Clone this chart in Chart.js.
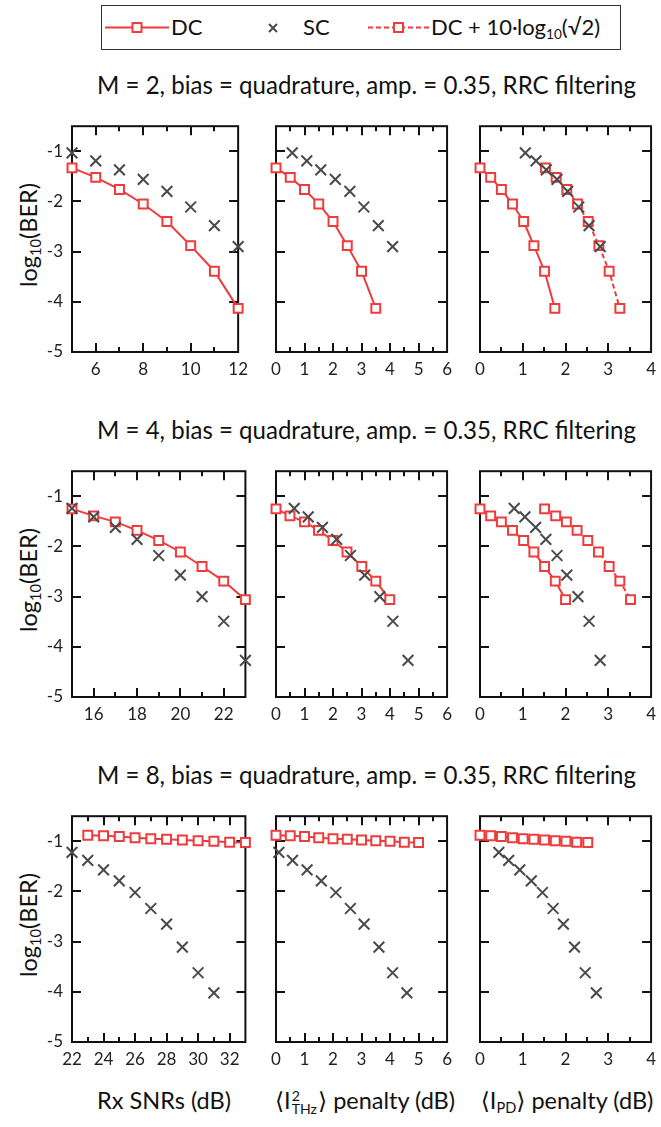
<!DOCTYPE html>
<html><head><meta charset="utf-8">
<script src="https://cdn.jsdelivr.net/npm/chart.js@4.4.1/dist/chart.umd.min.js"></script>
<style>
html,body{margin:0;padding:0;background:#fff;}
body{width:661px;height:1127px;position:relative;overflow:hidden;font-family:Lato,"DejaVu Sans",sans-serif;color:#111;}
canvas.cv{position:absolute;}
.lbl{position:absolute;height:30px;line-height:30px;text-align:center;white-space:nowrap;}
.lbl > span{display:inline-block;white-space:nowrap;}
.yt{transform:rotate(-90deg);}
sub{font-size:0.62em;vertical-align:-0.3em;line-height:0;}
.ss{display:inline-flex;flex-direction:column;font-size:0.6em;line-height:0.95em;vertical-align:0.6em;text-align:left;margin-left:1px;margin-right:1px;}
#legend{position:absolute;left:101px;top:5px;width:518px;height:43px;border:1px solid #333;}
#legend span{position:absolute;top:8px;font-size:22px;line-height:26px;white-space:nowrap;}
</style></head>
<body>
<div id="legend">
<svg width="518" height="43" style="position:absolute;left:0;top:0">
<line x1="3" y1="21.5" x2="67" y2="21.5" stroke="#ee3b3b" stroke-width="2"/>
<rect x="30.5" y="17" width="9" height="9" fill="#fff" stroke="#ee3b3b" stroke-width="2"/>
<path d="M167 18 L175 26 M175 18 L167 26" stroke="#4a4a4a" stroke-width="2"/>
<line x1="266" y1="21.5" x2="327" y2="21.5" stroke="#ee3b3b" stroke-width="2" stroke-dasharray="5,3"/>
<rect x="292" y="17" width="9" height="9" fill="#fff" stroke="#ee3b3b" stroke-width="2"/>
</svg>
<span style="left:69px">DC</span>
<span style="left:201px">SC</span>
<span style="left:329px">DC + 10·log<sub>10</sub>(√2)</span>
</div>

<div class="lbl" data-cx="366.5" data-cy="85" data-w="539"><span>M = 2, bias = quadrature, amp. = 0.35, RRC filtering</span></div>
<div class="lbl" data-cx="366.5" data-cy="430" data-w="539"><span>M = 4, bias = quadrature, amp. = 0.35, RRC filtering</span></div>
<div class="lbl" data-cx="366.5" data-cy="775" data-w="539"><span>M = 8, bias = quadrature, amp. = 0.35, RRC filtering</span></div>

<div class="lbl yt" data-cx="28" data-cy="235" data-fs="23.5"><span>log<sub>10</sub>(BER)</span></div>
<div class="lbl yt" data-cx="28" data-cy="580" data-fs="23.5"><span>log<sub>10</sub>(BER)</span></div>
<div class="lbl yt" data-cx="28" data-cy="925" data-fs="23.5"><span>log<sub>10</sub>(BER)</span></div>

<div class="lbl" data-cx="164" data-cy="1100" data-fs="23.5"><span>Rx SNRs (dB)</span></div>
<div class="lbl" data-cx="365" data-cy="1100" data-fs="23.5"><span>⟨I<span class="ss"><span>2</span><span>THz</span></span>⟩ penalty (dB)</span></div>
<div class="lbl" data-cx="567" data-cy="1100" data-fs="23.5"><span>⟨I<sub>PD</sub>⟩ penalty (dB)</span></div>

<script>
// ---------- DATA ----------
// M = 2
const m2_snr_dc = [5, 6, 7, 8, 9, 10, 11, 12];
const m2_snr_sc = [5, 6, 7, 8, 9, 10, 11, 12];
const m2_ber_dc = [-1.33, -1.52, -1.76, -2.05, -2.40, -2.88, -3.39, -4.13];
const m2_ber_sc = [-1.03, -1.19, -1.37, -1.56, -1.80, -2.11, -2.48, -2.90];
const m2_thz_dc = [0, 0.5, 1.0, 1.5, 2.0, 2.5, 3.0, 3.5];
const m2_thz_sc = [0.57, 1.08, 1.57, 2.08, 2.59, 3.08, 3.59, 4.09];
const m2_pd_dc = [0, 0.25, 0.50, 0.76, 1.02, 1.26, 1.51, 1.75];
const m2_pd_dcp = [1.53, 1.78, 2.03, 2.28, 2.53, 2.78, 3.02, 3.27];
const m2_pd_sc = [1.06, 1.31, 1.55, 1.80, 2.05, 2.31, 2.55, 2.81];
// M = 4
const m4_snr_dc = [15, 16, 17, 18, 19, 20, 21, 22, 23];
const m4_snr_sc = [15, 16, 17, 18, 19, 20, 21, 22, 23];
const m4_ber_dc = [-1.25, -1.39, -1.51, -1.68, -1.88, -2.11, -2.40, -2.69, -3.06];
const m4_ber_sc = [-1.24, -1.41, -1.62, -1.86, -2.18, -2.57, -3.00, -3.49, -4.27];
const m4_thz_dc = [0, 0.49, 1.0, 1.49, 2.0, 2.49, 3.01, 3.5, 3.99];
const m4_thz_sc = [0.64, 1.13, 1.63, 2.13, 2.61, 3.11, 3.64, 4.10, 4.63];
const m4_pd_dc = [0, 0.25, 0.50, 0.76, 1.02, 1.26, 1.51, 1.76, 2.0];
const m4_pd_dcp = [1.51, 1.77, 2.02, 2.27, 2.52, 2.77, 3.02, 3.27, 3.52];
const m4_pd_sc = [0.80, 1.05, 1.30, 1.54, 1.80, 2.03, 2.29, 2.55, 2.81];
// M = 8
const m8_snr_dc = [23, 24, 25, 26, 27, 28, 29, 30, 31, 32, 33];
const m8_snr_sc = [22, 23, 24, 25, 26, 27, 28, 29, 30, 31];
const m8_ber_dc = [-0.88, -0.89, -0.905, -0.93, -0.95, -0.96, -0.975, -0.99, -1.0, -1.02, -1.025];
const m8_ber_sc = [-1.22, -1.38, -1.57, -1.79, -2.02, -2.34, -2.65, -3.11, -3.62, -4.02];
const m8_thz_dc = [0, 0.5, 1.0, 1.5, 2.0, 2.5, 3.0, 3.5, 4.0, 4.5, 5.0];
const m8_thz_sc = [0.10, 0.58, 1.09, 1.59, 2.10, 2.61, 3.09, 3.61, 4.09, 4.59];
const m8_pd_dc = [0, 0.25, 0.50, 0.76, 1.01, 1.26, 1.51, 1.76, 2.01, 2.26, 2.52];
const m8_pd_sc = [0.44, 0.67, 0.93, 1.20, 1.46, 1.71, 1.95, 2.21, 2.46, 2.72];

// axis ranges / ticks
const yRange = [-5, -0.5];
const yTickValues = [-5, -4, -3, -2, -1];
const xRanges = [[5, 12], [15, 23], [22, 33]];
const penaltyRanges = [[0, 6], [0, 4]];

// ---------- TEXT LAYOUT ----------
document.querySelectorAll('.lbl').forEach(el => {
  const inner = el.firstElementChild;
  let fs;
  if (el.dataset.fs) {
    fs = +el.dataset.fs;
  } else {
    el.style.fontSize = '20px';
    const w0 = inner.offsetWidth;
    fs = Math.max(16, Math.min(26, 20 * (+el.dataset.w) / w0));
  }
  el.style.fontSize = fs.toFixed(2) + 'px';
  const W = 600;
  el.style.width = W + 'px';
  el.style.left = (+el.dataset.cx - W / 2) + 'px';
  el.style.top = (+el.dataset.cy - 15) + 'px';
});

// ---------- STYLE / LAYOUT ----------
const RED = '#ee3b3b', GRAY = '#4a4a4a';
const colLeft = [72, 276, 480], plotW = 175;
const rowTop = [115, 460, 805], plotH = 237;
const PADL = 45, PADT = 8, PADR = 8, PADB = 30;

function pts(xs, ys) { return xs.map((x, i) => ({x: x, y: ys[i]})); }
function dcSet(xs, ys, dashed) {
  return {data: pts(xs, ys), showLine: true, borderColor: RED, borderWidth: 2,
    borderDash: dashed ? [5, 3] : [], pointStyle: 'rect', pointRadius: 6.3, pointHoverRadius: 6.3,
    pointBorderWidth: 2, pointBackgroundColor: '#fff', pointBorderColor: RED, clip: false, order: 2};
}
function scSet(xs, ys) {
  return {data: pts(xs, ys), showLine: false, borderColor: GRAY, pointStyle: 'crossRot',
    pointRadius: 7.6, pointHoverRadius: 7.6, pointBorderWidth: 2, pointBorderColor: GRAY,
    backgroundColor: GRAY, clip: false, order: 1};
}

const frameTicks = {
  id: 'frameTicks',
  beforeDatasetsDraw(chart, args, opts) {
    const {ctx, chartArea: a} = chart;
    const xs = chart.scales.x, ys = chart.scales.y;
    ctx.save();
    ctx.strokeStyle = '#111'; ctx.lineWidth = 2;
    ctx.beginPath();
    xs.ticks.forEach(t => {
      const px = Math.round(xs.getPixelForValue(t.value));
      if (px <= a.left + 1 || px >= a.right - 1) return;
      const L = opts.isMajor(t.value) ? 9 : 5;
      ctx.moveTo(px, a.bottom); ctx.lineTo(px, a.bottom - L);
      ctx.moveTo(px, a.top); ctx.lineTo(px, a.top + L);
    });
    yTickValues.forEach(v => {
      const py = Math.round(ys.getPixelForValue(v));
      if (py <= a.top + 1 || py >= a.bottom - 1) return;
      ctx.moveTo(a.left, py); ctx.lineTo(a.left + 9, py);
      ctx.moveTo(a.right, py); ctx.lineTo(a.right - 9, py);
    });
    ctx.stroke();
    ctx.strokeRect(a.left, a.top, a.right - a.left, a.bottom - a.top);
    ctx.restore();
  }
};

function makeChart(row, col, datasets, xr, step, isMajor, showY) {
  const c = document.createElement('canvas');
  c.className = 'cv';
  const w = PADL + plotW + PADR, h = PADT + plotH + PADB;
  c.width = w; c.height = h;
  c.style.width = w + 'px'; c.style.height = h + 'px';
  c.style.left = (colLeft[col] - PADL) + 'px';
  c.style.top = (rowTop[row] - PADT) + 'px';
  document.body.appendChild(c);
  new Chart(c, {
    type: 'scatter',
    data: {datasets: datasets},
    plugins: [frameTicks],
    options: {
      responsive: false, animation: false, devicePixelRatio: 1,
      layout: {padding: {left: 0, top: PADT, right: PADR, bottom: 0}},
      plugins: {legend: {display: false}, tooltip: {enabled: false}, frameTicks: {isMajor: isMajor}},
      scales: {
        x: {type: 'linear', min: xr[0], max: xr[1],
          grid: {display: false, drawTicks: false}, border: {display: false},
          ticks: {stepSize: step, autoSkip: false, maxRotation: 0, padding: 7, color: '#222',
            font: {family: 'Lato', size: 17},
            callback: v => isMajor(v) ? String(v) : ''},
          afterFit: s => { s.height = PADB; }},
        y: {type: 'linear', min: yRange[0], max: yRange[1],
          grid: {display: false, drawTicks: false}, border: {display: false},
          ticks: {stepSize: 1, autoSkip: false, padding: 9, color: '#222',
            font: {family: 'Lato', size: 17},
            callback: v => (showY && Number.isInteger(v)) ? String(v) : ''},
          afterFit: s => { s.width = PADL; }}
      }
    }
  });
}

const evenMajor = v => Math.abs(v % 2) < 1e-9;
const intMajor = v => Math.abs(v - Math.round(v)) < 1e-9;

const rows = [
  {snr: [m2_snr_dc, m2_ber_dc, m2_snr_sc, m2_ber_sc],
   thz: [m2_thz_dc, m2_thz_sc], pd: [m2_pd_dc, m2_pd_dcp, m2_pd_sc]},
  {snr: [m4_snr_dc, m4_ber_dc, m4_snr_sc, m4_ber_sc],
   thz: [m4_thz_dc, m4_thz_sc], pd: [m4_pd_dc, m4_pd_dcp, m4_pd_sc]},
  {snr: [m8_snr_dc, m8_ber_dc, m8_snr_sc, m8_ber_sc],
   thz: [m8_thz_dc, m8_thz_sc], pd: [m8_pd_dc, null, m8_pd_sc]}
];

rows.forEach((r, i) => {
  const berDc = r.snr[1], berSc = r.snr[3];
  makeChart(i, 0, [scSet(r.snr[2], berSc), dcSet(r.snr[0], berDc, false)],
    xRanges[i], 1, evenMajor, true);
  makeChart(i, 1, [scSet(r.thz[1], berSc), dcSet(r.thz[0], berDc, false)],
    penaltyRanges[0], 0.5, intMajor, false);
  const pdSets = [scSet(r.pd[2], berSc), dcSet(r.pd[0], berDc, false)];
  if (r.pd[1]) pdSets.push(dcSet(r.pd[1], berDc, true));
  makeChart(i, 2, pdSets, penaltyRanges[1], 0.5, intMajor, false);
});
</script>
</body></html>
